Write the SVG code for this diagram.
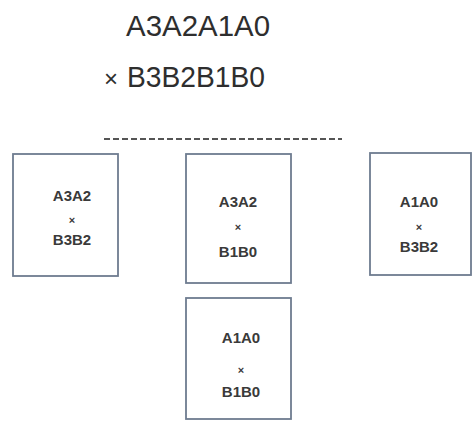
<svg xmlns="http://www.w3.org/2000/svg" width="473" height="424" viewBox="0 0 473 424">
<style>
.title{font-family:"Liberation Sans",Arial,sans-serif;font-size:29px;fill:#2e2e2e}
.box{fill:#ffffff;stroke:#6e7c90;stroke-width:1.8}
.lbl{font-family:"Liberation Sans",Arial,sans-serif;font-size:15px;font-weight:bold;fill:#3a3a3a;text-anchor:middle}
.x{font-family:"Liberation Sans",Arial,sans-serif;font-size:11px;font-weight:bold;fill:#3a3a3a;text-anchor:middle}
</style>
<rect width="473" height="424" fill="#ffffff"/>
<g id="header">
<text class="title" x="126" y="36" textLength="144" lengthAdjust="spacingAndGlyphs">A3A2A1A0</text>
<text class="title" x="104" y="87" style="font-size:24px">×</text>
<text class="title" x="127" y="87" textLength="138" lengthAdjust="spacingAndGlyphs">B3B2B1B0</text>
</g>
<g id="connectors">
<line x1="104" y1="139" x2="342" y2="139" stroke="#555555" stroke-width="2" stroke-dasharray="6,3"/>
</g>
<g id="node1">
<rect class="box" x="13" y="154" width="105" height="122"/>
<text class="lbl" x="72" y="201">A3A2</text>
<text class="x" x="72" y="224">×</text>
<text class="lbl" x="72" y="245">B3B2</text>
</g>
<g id="node2">
<rect class="box" x="186" y="154" width="105" height="129"/>
<text class="lbl" x="238" y="207">A3A2</text>
<text class="x" x="238" y="231">×</text>
<text class="lbl" x="238" y="257">B1B0</text>
</g>
<g id="node3">
<rect class="box" x="370" y="153" width="101" height="122"/>
<text class="lbl" x="419" y="207">A1A0</text>
<text class="x" x="419" y="231">×</text>
<text class="lbl" x="419" y="252">B3B2</text>
</g>
<g id="node4">
<rect class="box" x="186" y="298" width="105" height="121"/>
<text class="lbl" x="241" y="343">A1A0</text>
<text class="x" x="241" y="374">×</text>
<text class="lbl" x="241" y="397">B1B0</text>
</g>
</svg>
